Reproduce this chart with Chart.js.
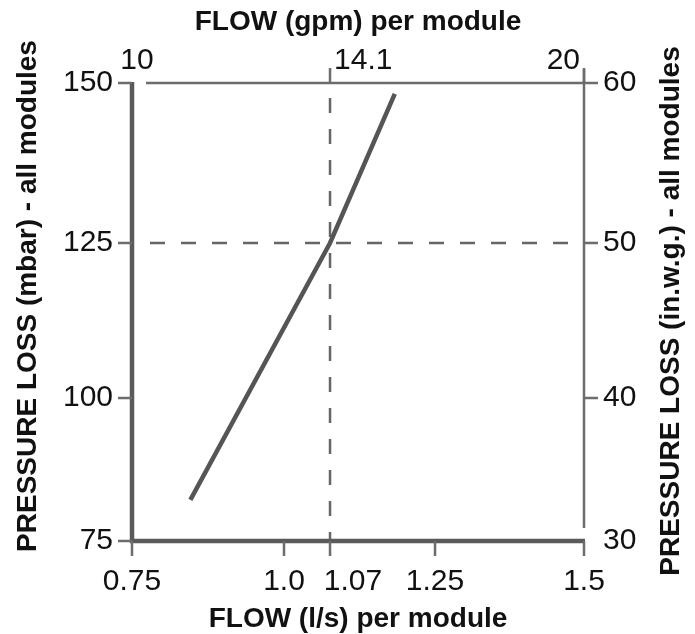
<!DOCTYPE html>
<html>
<head>
<meta charset="utf-8">
<script src="https://cdn.jsdelivr.net/npm/chart.js@4.4.1/dist/chart.umd.min.js"></script>
<style>
  html, body { margin: 0; padding: 0; background: #fff; }
</style>
</head>
<body>
<canvas id="flowChart" width="695" height="634"></canvas>
<script>
// pressure loss vs flow, per module

const flowLs = [0.846, 1.07, 1.181];      // l/s
const lossMbar = [82.2, 125, 148.3];      // mbar

const flowTicks = [0.75, 1.0, 1.07, 1.25, 1.5];
const flowTickLabels = ['0.75', '1.0', '1.07', '1.25', '1.5'];
const gpmTicks = [10, 14.1, 20];
const gpmTickLabels = ['10', '14.1', '20'];
const mbarTicks = [75, 100, 125, 150];
const inwgTicks = [30, 40, 50, 60];

const dutyFlow = 1.07;
const dutyLoss = 125;

// the drawing's axes are not evenly spaced, so each tick gets its spot (0..1 along the axis)
const flowSpots = [0, 0.3363, 0.4381, 0.6704, 1];
const gpmSpots = [0, 0.4381, 1];
const lossSpots = [0, 0.3122, 0.6507, 1];

const stretchMap = {
    x: [flowTicks, flowSpots],
    x2: [gpmTicks, gpmSpots],
    y: [mbarTicks, lossSpots],
    y2: [inwgTicks, lossSpots]
};

class StretchScale extends Chart.LinearScale {
    getPixelForValue(v) {
        if (v === null || isNaN(v)) return NaN;
        const [stops, spots] = stretchMap[this.id];
        let i = 0;
        while (i < stops.length - 2 && v > stops[i + 1]) i++;
        const d = spots[i] + (v - stops[i]) / (stops[i + 1] - stops[i]) * (spots[i + 1] - spots[i]);
        return this.getPixelForDecimal(d);
    }
    getValueForPixel(p) {
        const d = this.getDecimalForPixel(p);
        const [stops, spots] = stretchMap[this.id];
        let i = 0;
        while (i < spots.length - 2 && d > spots[i + 1]) i++;
        return stops[i] + (d - spots[i]) / (spots[i + 1] - spots[i]) * (stops[i + 1] - stops[i]);
    }
}
StretchScale.id = 'stretch';
StretchScale.defaults = {};
Chart.register(StretchScale);

const FONT = '"Liberation Sans", Arial, Helvetica, sans-serif';
const TEXT = '#111';
const AXIS = '#5a5a5a';
const THIN = '#6c6c6c';

const tickFont = { family: FONT, size: 30, lineHeight: 1.2 };
const titleFont = { family: FONT, size: 28, weight: 'bold', lineHeight: 1 };

function baseAxis(ticks, labels) {
    return {
        type: 'stretch',
        min: ticks[0],
        max: ticks[ticks.length - 1],
        grid: { display: false, drawTicks: false },
        border: { display: false },
        afterBuildTicks: s => { s.ticks = ticks.map(v => ({ value: v })); },
        ticks: {
            autoSkip: false,
            maxRotation: 0,
            font: tickFont,
            color: TEXT,
            callback: (v, i) => labels[i]
        }
    };
}

const xAxis = baseAxis(flowTicks, flowTickLabels);
xAxis.position = 'bottom';
xAxis.ticks.display = false;
xAxis.title = { display: true, text: 'FLOW (l/s) per module', font: titleFont, color: TEXT, padding: { top: 0, bottom: 1 } };
xAxis.afterFit = s => { s.height = 93; };

const x2Axis = baseAxis(gpmTicks, gpmTickLabels);
x2Axis.position = 'top';
x2Axis.ticks.display = false;
x2Axis.title = { display: true, text: 'FLOW (gpm) per module', font: titleFont, color: TEXT, padding: { top: 8, bottom: 0 } };
x2Axis.afterFit = s => { s.height = 83; };

const yAxis = baseAxis(mbarTicks, mbarTicks.map(String));
yAxis.position = 'left';
yAxis.ticks.padding = 19;
yAxis.afterFit = s => { s.width = 132; };

const y2Axis = baseAxis(inwgTicks, inwgTicks.map(String));
y2Axis.position = 'right';
y2Axis.ticks.padding = 19;
y2Axis.afterFit = s => { s.width = 111; };

// little nudges the drawing gives a few labels
const flowLabelNudge = [0, 0, 23, 0, 0];
const gpmLabelAlign = ['center', 'left', 'right'];
const gpmLabelNudge = [5, 4, -4];

function line(ctx, x1, y1, x2, y2, w, c) {
    ctx.beginPath();
    ctx.lineWidth = w;
    ctx.strokeStyle = c;
    ctx.moveTo(x1, y1);
    ctx.lineTo(x2, y2);
    ctx.stroke();
}

const framePlugin = {
    id: 'frame',
    afterDraw(chart) {
        const { ctx, chartArea: a, scales } = chart;
        const L = a.left, R = a.right, T = a.top, B = a.bottom;
        ctx.save();
        ctx.lineCap = 'butt';

        // frame
        line(ctx, L + 14, T, R, T, 2.5, THIN);
        line(ctx, R, T - 14, R, B - 13, 2.5, THIN);
        line(ctx, L, T - 1, L, B + 2, 4.5, AXIS);
        line(ctx, L - 2, B, R + 1, B, 4.5, AXIS);

        // tick marks
        mbarTicks.forEach(v => {
            const py = scales.y.getPixelForValue(v);
            line(ctx, L - 14, py, L, py, 2.5, THIN);
        });
        inwgTicks.slice(1).forEach(v => {
            const py = scales.y2.getPixelForValue(v);
            line(ctx, R, py, R + 14, py, 2.5, THIN);
        });
        flowTicks.forEach(v => {
            const px = scales.x.getPixelForValue(v);
            line(ctx, px, B, px, B + 15, 2.5, THIN);
        });
        gpmTicks.slice(1).forEach(v => {
            const px = scales.x2.getPixelForValue(v);
            line(ctx, px, T - 15, px, T, 2.5, THIN);
        });

        // bottom and top tick labels
        ctx.fillStyle = TEXT;
        ctx.font = '30px ' + FONT;
        ctx.textBaseline = 'alphabetic';
        ctx.textAlign = 'center';
        flowTicks.forEach((v, i) => {
            ctx.fillText(flowTickLabels[i], scales.x.getPixelForValue(v) + flowLabelNudge[i], 590);
        });
        gpmTicks.forEach((v, i) => {
            ctx.textAlign = gpmLabelAlign[i];
            ctx.fillText(gpmTickLabels[i], scales.x2.getPixelForValue(v) + gpmLabelNudge[i], 69);
        });

        // side titles, both read upwards
        ctx.font = 'bold 28px ' + FONT;
        ctx.textAlign = 'center';
        ctx.textBaseline = 'middle';
        [['PRESSURE LOSS (mbar) - all modules', 28, 296],
         ['PRESSURE LOSS (in.w.g.) - all modules', 671, 311]].forEach(([t, cx, cy]) => {
            ctx.save();
            ctx.translate(cx, cy);
            ctx.rotate(-Math.PI / 2);
            ctx.fillText(t, 0, 0);
            ctx.restore();
        });
        ctx.restore();
    }
};

const ctx = document.getElementById('flowChart').getContext('2d');
new Chart(ctx, {
    type: 'line',
    data: {
        datasets: [
            {
                label: 'Pressure loss',
                data: flowLs.map((x, i) => ({ x, y: lossMbar[i] })),
                borderColor: '#555',
                borderWidth: 4.5,
                pointRadius: 0,
                tension: 0,
                xAxisID: 'x',
                yAxisID: 'y'
            },
            {
                label: 'duty flow',
                data: [{ x: dutyFlow, y: mbarTicks[mbarTicks.length - 1] }, { x: dutyFlow, y: mbarTicks[0] }],
                borderColor: '#666',
                borderWidth: 2.5,
                borderDash: [15, 16],
                borderDashOffset: 16,
                pointRadius: 0,
                xAxisID: 'x',
                yAxisID: 'y'
            },
            {
                label: 'duty loss',
                data: [{ x: flowTicks[0], y: dutyLoss }, { x: flowTicks[flowTicks.length - 1], y: dutyLoss }],
                borderColor: '#666',
                borderWidth: 2.5,
                borderDash: [15, 16],
                borderDashOffset: 13,
                pointRadius: 0,
                xAxisID: 'x',
                yAxisID: 'y'
            }
        ]
    },
    options: {
        responsive: false,
        animation: false,
        devicePixelRatio: 1,
        layout: { padding: 0 },
        plugins: {
            legend: { display: false },
            tooltip: { enabled: false }
        },
        scales: { x: xAxis, x2: x2Axis, y: yAxis, y2: y2Axis }
    },
    plugins: [framePlugin]
});
</script>
</body>
</html>
